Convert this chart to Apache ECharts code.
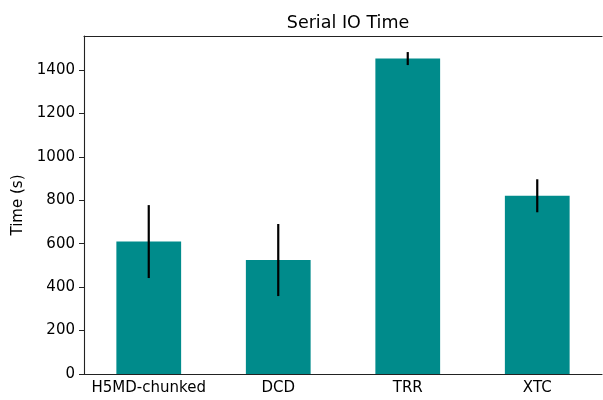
<!DOCTYPE html>
<html>
<head>
<meta charset="utf-8">
<script src="https://cdn.jsdelivr.net/npm/echarts@6/dist/echarts.min.js"></script>
<style>
  html, body { margin: 0; padding: 0; background: #fff; }
  #chart { width: 603px; height: 400px; }
</style>
</head>
<body>
<div id="chart"></div>
<script>
// Serial read times per trajectory format, with standard deviation
const formats = ['H5MD-chunked', 'DCD', 'TRR', 'XTC'];
const meanTime = [610, 525, 1453, 821];
const stdTime = [168, 166, 30, 76];
const yTicks = [0, 200, 400, 600, 800, 1000, 1200, 1400];

const FONT = 'DejaVu Sans';
const chart = echarts.init(document.getElementById('chart'), null, { renderer: 'canvas' });

const errData = formats.map((f, i) => [i, meanTime[i], stdTime[i]]);

chart.setOption({
  animation: false,
  backgroundColor: '#fff',
  title: {
    text: 'Serial IO Time',
    left: 343,
    textAlign: 'center',
    top: 9,
    textStyle: { fontFamily: FONT, fontSize: 17.5, fontWeight: 'normal', color: '#000' }
  },
  grid: { left: 84, right: 1, top: 36, bottom: 26 },
  xAxis: [{
    type: 'category',
    data: formats,
    axisLine: { lineStyle: { color: '#222', width: 1.1 } },
    axisTick: { alignWithLabel: true, length: 5, lineStyle: { color: '#222' } },
    axisLabel: { interval: 0, fontFamily: FONT, fontSize: 15, color: '#000', margin: 7 }
  }, {
    type: 'category',
    data: formats,
    position: 'top',
    axisLine: { lineStyle: { color: '#222', width: 1.1 } },
    axisTick: { show: false },
    axisLabel: { show: false }
  }],
  yAxis: {
    type: 'value',
    min: 0,
    max: 1557,
    interval: 200,
    name: 'Time (s)',
    nameLocation: 'middle',
    nameGap: 56,
    nameTextStyle: { fontFamily: FONT, fontSize: 15, color: '#000' },
    splitLine: { show: false },
    axisLine: { show: true, lineStyle: { color: '#222', width: 1.1 } },
    axisTick: { show: true, length: 5, customValues: yTicks, lineStyle: { color: '#222' } },
    axisLabel: {
      fontFamily: FONT, fontSize: 15, color: '#000', margin: 9,
      customValues: yTicks,
      formatter: v => String(v)
    }
  },
  series: [{
    type: 'bar',
    data: meanTime,
    barWidth: '50%',
    itemStyle: { color: '#008b8b' }
  }, {
    type: 'custom',
    data: errData,
    z: 10,
    renderItem: function (params, api) {
      const x = api.value(0);
      const m = api.value(1);
      const e = api.value(2);
      const lo = api.coord([x, m - e]);
      const hi = api.coord([x, m + e]);
      return {
        type: 'line',
        shape: { x1: lo[0], y1: lo[1], x2: hi[0], y2: hi[1] },
        style: { stroke: '#000', lineWidth: 2.2 }
      };
    }
  }]
});
</script>
</body>
</html>
